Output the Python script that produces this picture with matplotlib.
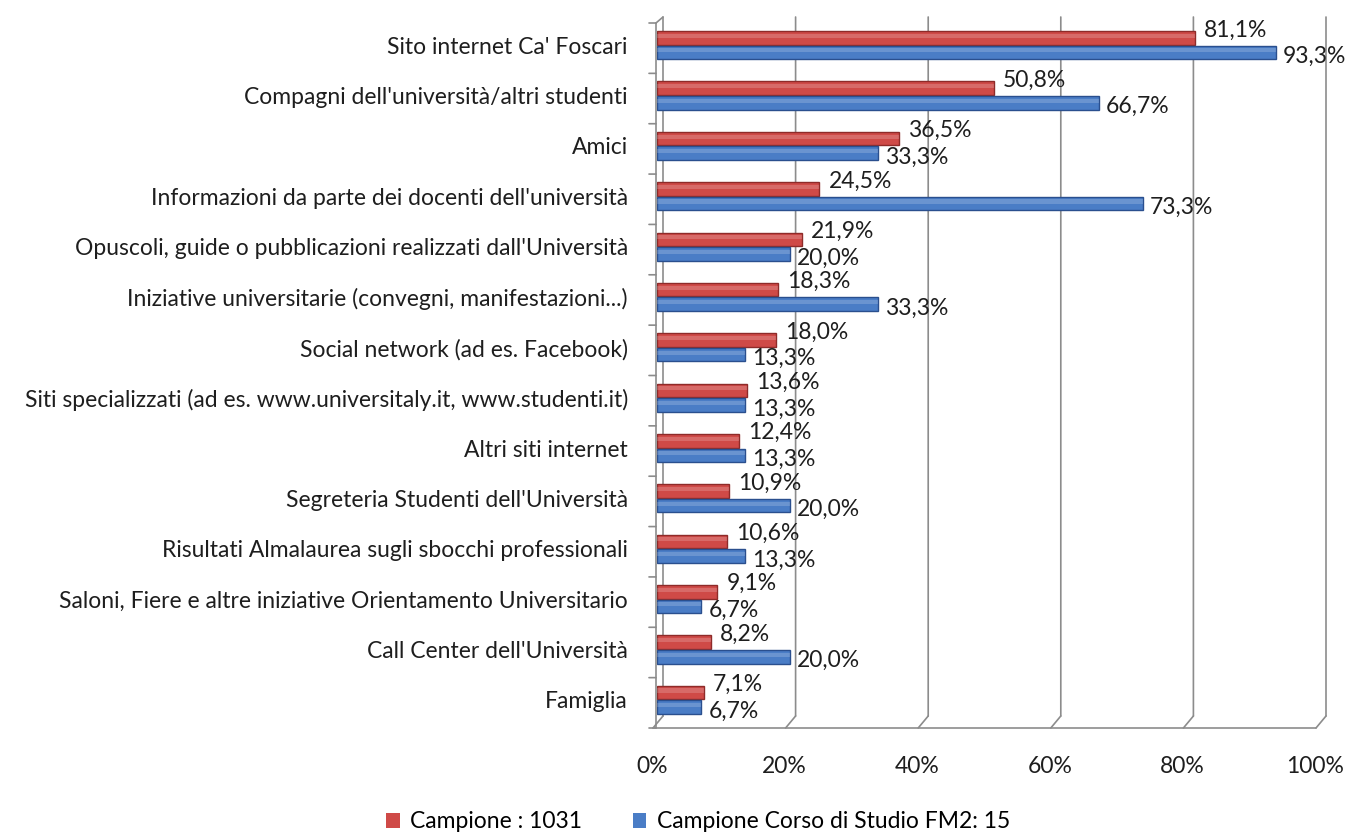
import matplotlib
matplotlib.use("Agg")
import matplotlib.pyplot as plt
from matplotlib.transforms import ScaledTranslation, blended_transform_factory
from matplotlib.patches import Patch
import numpy as np

plt.rcParams["font.family"] = ["Lato", "DejaVu Sans"]

categories = [
    "Sito internet Ca' Foscari",
    "Compagni dell'università/altri studenti",
    "Amici",
    "Informazioni da parte dei docenti dell'università",
    "Opuscoli, guide o pubblicazioni realizzati dall'Università",
    "Iniziative universitarie (convegni, manifestazioni...)",
    "Social network (ad es. Facebook)",
    "Siti specializzati (ad es. www.universitaly.it, www.studenti.it)",
    "Altri siti internet",
    "Segreteria Studenti dell'Università",
    "Risultati Almalaurea sugli sbocchi professionali",
    "Saloni, Fiere e altre iniziative Orientamento Universitario",
    "Call Center dell'Università",
    "Famiglia",
]
campione = [81.1, 50.8, 36.5, 24.5, 21.9, 18.3, 18.0, 13.6, 12.4, 10.9, 10.6, 9.1, 8.2, 7.1]
corso = [93.3, 66.7, 33.3, 73.3, 20.0, 33.3, 13.3, 13.3, 13.3, 20.0, 13.3, 6.7, 20.0, 6.7]
series_names = ["Campione : 1031", "Campione Corso di Studio FM2: 15"]
xticks = [0, 20, 40, 60, 80, 100]

red, red_dark = "#CF4A47", "#8E2B29"
blue, blue_dark = "#4A7DC6", "#2A4F8E"
grid_col = "#8C8C8C"
txt_col = "#1E1E1E"
fs = 16.5

fig = plt.figure(figsize=(13.52, 8.32), dpi=100)
ax = fig.add_axes([657 / 1352, 1 - 725 / 832, (1320 - 657) / 1352, (725 - 20) / 832])

n = len(categories)
y = np.arange(n)[::-1]
h = 0.27
off = 0.145


def px(dx, dy):
    return ScaledTranslation(dx / 100, dy / 100, fig.dpi_scale_trans)


def seg(x0, y0, tr0, x1, y1, tr1):
    ax.annotate("", xy=(x0, y0), xycoords=tr0, xytext=(x1, y1), textcoords=tr1,
                arrowprops=dict(arrowstyle="-", color=grid_col, lw=1.2, shrinkA=0, shrinkB=0),
                annotation_clip=False)


# perspective-ish grid / walls
bt = blended_transform_factory(ax.transData, ax.transAxes)
for g in xticks:
    seg(g, 1, bt + px(6, 3), g, 0, bt + px(6, 9))
    seg(g, 0, bt + px(-4, -3), g, 0, bt + px(6, 9))
# wall front edge, floor front edge, top corner
seg(0, 1, bt + px(-1, -3), 0, 0, bt + px(-1, -3))
seg(0, 0, bt + px(-4, -3), 100, 0, bt + px(-4, -3))
seg(0, 1, bt + px(-1, -3), 0, 1, bt + px(6, 3))
for b in np.arange(n + 1) - 0.5:
    seg(0, b, ax.transData + px(-8, -3), 0, b, ax.transData + px(-1, -3))

# bars
ax.barh(y + off, campione, height=h, color=red, edgecolor=red_dark, lw=1.0, zorder=3)
ax.barh(y - off, corso, height=h, color=blue, edgecolor=blue_dark, lw=1.0, zorder=3)
# highlight to fake the cylinder shading
ax.barh(y + off + h * 0.15, campione, height=h * 0.3, color="white", alpha=0.18, lw=0, zorder=4)
ax.barh(y - off + h * 0.15, corso, height=h * 0.3, color="white", alpha=0.18, lw=0, zorder=4)

for yi, v in zip(y, campione):
    ax.annotate(f"{v:.1f}%".replace(".", ","), (v, yi + off), xytext=(9, 8), textcoords="offset pixels",
                ha="left", va="center", fontsize=fs, color=txt_col, zorder=5)
for yi, v in zip(y, corso):
    ax.annotate(f"{v:.1f}%".replace(".", ","), (v, yi - off), xytext=(7, -4), textcoords="offset pixels",
                ha="left", va="center", fontsize=fs, color=txt_col, zorder=5)

ax.set_xlim(0, 100)
ax.set_ylim(-0.5, n - 0.5)
ax.set_xticks(xticks)
ax.set_xticklabels([f"{t}%" for t in xticks], fontsize=fs, color=txt_col)
ax.set_yticks(y)
ax.set_yticklabels(categories, fontsize=fs, color=txt_col)
ax.tick_params(axis="x", length=0, pad=22)
ax.tick_params(axis="y", length=0, pad=21)
for lab in ax.get_xticklabels():
    lab.set_transform(lab.get_transform() + px(-5, 0))
for s in ax.spines.values():
    s.set_visible(False)

handles = [Patch(facecolor=red, edgecolor="none"), Patch(facecolor=blue, edgecolor="none")]
fig.legend(handles, series_names, loc="center", bbox_to_anchor=(0.5 + 22 / 1352, 10 / 832), ncol=2,
           frameon=False, fontsize=fs, handlelength=0.6, handleheight=0.6, handletextpad=0.45,
           columnspacing=2.2)

fig.savefig("out.png", dpi=100)
